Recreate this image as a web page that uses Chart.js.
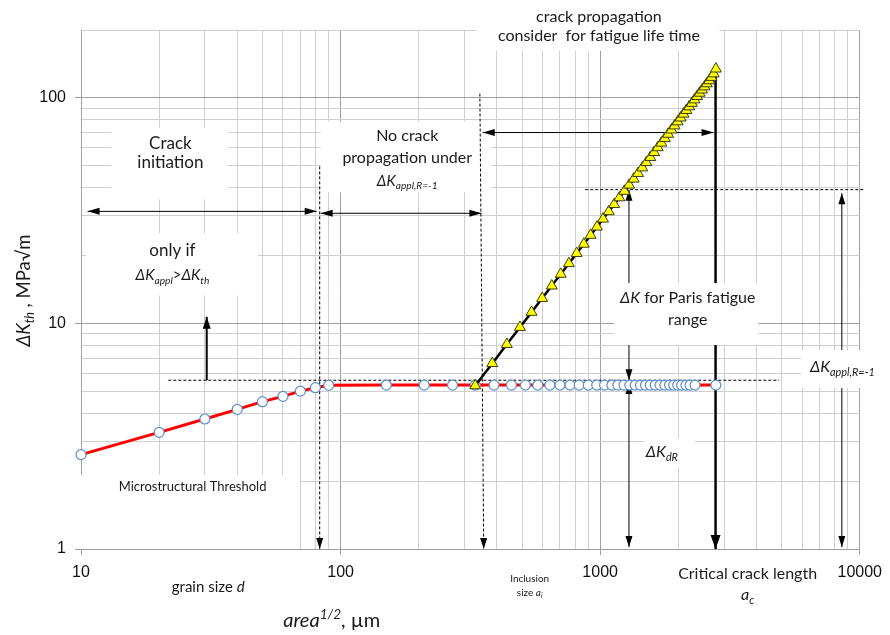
<!DOCTYPE html>
<html>
<head>
<meta charset="utf-8">
<script src="https://cdn.jsdelivr.net/npm/chart.js@4.4.1/dist/chart.umd.min.js"></script>
<style>
  html, body { margin: 0; padding: 0; background: #fff; }
</style>
</head>
<body>
<canvas id="chart" width="890" height="635"></canvas>
<script>
// microstructural threshold (red line, open circles)
var thresholdX = [10, 20, 30, 40, 50, 60, 70, 80, 90, 150, 210, 270, 330, 390, 455, 515, 575, 640, 700, 765,
  830, 900, 970, 1040, 1110, 1170, 1235, 1300, 1365, 1430, 1495, 1560, 1630, 1700, 1775, 1850, 1920, 1990,
  2060, 2140, 2220, 2320, 2790];
var thresholdY = [2.62, 3.29, 3.77, 4.16, 4.5, 4.75, 5.01, 5.19, 5.32, 5.33, 5.33, 5.33, 5.33, 5.33, 5.33, 5.33,
  5.33, 5.33, 5.33, 5.33, 5.33, 5.33, 5.33, 5.33, 5.33, 5.33, 5.33, 5.33, 5.33, 5.33, 5.33, 5.33, 5.33, 5.33,
  5.33, 5.33, 5.33, 5.33, 5.33, 5.33, 5.33, 5.33, 5.33];

// crack propagation (black line, yellow triangles)
var parisX = [330, 384, 437, 491, 544, 598, 651, 705, 758, 812, 865, 919, 972, 1026, 1079, 1133, 1186, 1240,
  1293, 1347, 1400, 1454, 1507, 1561, 1614, 1668, 1721, 1775, 1828, 1882, 1935, 1989, 2042, 2096, 2149, 2203,
  2256, 2310, 2363, 2417, 2470, 2524, 2577, 2631, 2684, 2738, 2791];
var parisY = [5.30, 6.65, 8.08, 9.62, 11.22, 12.93, 14.68, 16.55, 18.45, 20.46, 22.49, 24.63, 26.79, 29.06,
  31.34, 33.72, 36.11, 38.61, 41.11, 43.71, 46.31, 49.02, 51.72, 54.53, 57.33, 60.23, 63.12, 66.12, 69.10,
  72.18, 75.25, 78.43, 81.58, 84.84, 88.08, 91.42, 94.74, 98.16, 101.55, 105.06, 108.53, 112.11, 115.66,
  119.31, 123.5, 128.0, 134.5];

// axis ticks
var xTickValues = [10, 20, 30, 40, 50, 60, 70, 80, 90, 100, 200, 300, 400, 500, 600, 700, 800, 900,
  1000, 2000, 3000, 4000, 5000, 6000, 7000, 8000, 9000, 10000];
var yTickValues = [1, 2, 3, 4, 5, 6, 7, 8, 9, 10, 20, 30, 40, 50, 60, 70, 80, 90, 100, 200];
var xTickLabels = ['10', '100', '1000', '10000'];
var yTickLabels = ['1', '10', '100'];

var TXT = 'Lato';

// white text boxes: [x1, x2, yTop, yBottom] in data units
var boxes = [
  [332, 2883, 215, 162],
  [13.1, 36.9, 73.9, 35.5],
  [83.8, 382, 78.6, 38.1],
  [10.45, 48.1, 25.1, 13.3],
  [10, 69.5, 2.13, 1.0],
  [1131, 4068, 15.1, 8.02],
  [1474, 2312, 3.11, 2.31],
  [5943, 12500, 7.62, 5.17]
];

// lines: x1, y1, x2, y2, width, dashed, head ('end', 'both', ''), head length, head half width
var arrows = [
  [10.6, 31.4, 80.9, 31.4, 1, false, 'both', 12, 3.5],
  [83.8, 30.8, 348.6, 30.8, 1, false, 'both', 12, 3.5],
  [353, 70.2, 2734, 70.2, 1, false, 'both', 12, 3.5],
  [83.1, 49.7, 83.1, 1.0, 1, true, 'end', 11, 3.5],
  [344, 104.5, 356, 1.0, 1, true, 'end', 11, 3.5],
  [21.7, 5.6, 4894, 5.6, 1, true, '', 0, 0],
  [30.5, 5.6, 30.5, 10.7, 2, false, 'end', 12, 4],
  [2783, 134.8, 2783, 15.1, 2.5, false, '', 0, 0],
  [2783, 8.02, 2783, 1.0, 2.5, false, 'end', 14, 5],
  [876, 39.2, 10360, 39.2, 1, true, '', 0, 0],
  [1291, 15.1, 1291, 39.2, 1, false, 'end', 11, 3.5],
  [1291, 8.02, 1291, 5.6, 1, false, 'end', 11, 3.5],
  [1291, 5.44, 1291, 1.02, 1, false, 'both', 11, 3.5],
  [8531, 7.62, 8531, 37.8, 1, false, 'end', 11, 3.5],
  [8531, 5.17, 8531, 1.02, 1, false, 'end', 11, 3.5]
];

// texts: x, y (line centres), font size, lines of segments
var texts = [
  [989, [229, 188.7], 16, [[{t: 'crack propagation'}], [{t: 'consider  for fatigue life time'}]]],
  [22.1, [63.4, 52.3], 17, [[{t: 'Crack'}], [{t: 'initiation'}]]],
  [180.6, [68.1, 54.4], 16, [[{t: 'No crack'}], [{t: 'propagation under'}]]],
  [180.6, [43.1], 15, [[{t: '\u0394K', i: 1}, {t: 'appl,R=-1', i: 1, sub: 1}]]],
  [22.5, [21.1], 17, [[{t: 'only if'}]]],
  [22.5, [16.4], 15, [[{t: '\u0394K', i: 1}, {t: 'appl', i: 1, sub: 1}, {t: '>'}, {t: '\u0394K', i: 1}, {t: 'th', i: 1, sub: 1}]]],
  [26.9, [1.89], 13, [[{t: 'Microstructural Threshold'}]]],
  [30.9, [0.683], 15, [[{t: 'grain size '}, {t: 'd', i: 1}]]],
  [535, [0.744, 0.645], 10, [[{t: 'Inclusion'}], [{t: 'size '}, {t: 'a', i: 1}, {t: 'i', i: 1, sub: 1}]]],
  [3698, [0.777, 0.628], 16, [[{t: 'Critical crack length'}], [{t: 'a', i: 1}, {t: 'c', i: 1, sub: 1}]]],
  [2174, [13.1, 10.45], 16, [[{t: '\u0394K', i: 1}, {t: ' for Paris fatigue'}], [{t: 'range'}]]],
  [1728, [2.70], 16, [[{t: '\u0394K', i: 1}, {t: 'dR', i: 1, sub: 1}]]],
  [8570, [6.43], 16, [[{t: '\u0394K', i: 1}, {t: 'appl,R=-1', i: 1, sub: 1}]]],
  [92.4, [0.486], 20, [[{t: 'area', i: 1}, {t: '1/2', i: 1, sup: 1}, {t: ', \u00b5m'}]]]
];

function segFont(s, size) {
  var sz = (s.sub || s.sup) ? size * 0.68 : size;
  return (s.i ? 'italic ' : '') + sz + 'px ' + TXT;
}

function drawRich(ctx, segs, cx, cy, size) {
  var w = 0;
  segs.forEach(function (s) { ctx.font = segFont(s, size); w += ctx.measureText(s.t).width; });
  var x = cx - w / 2;
  var base = cy + size * 0.36;
  segs.forEach(function (s) {
    ctx.font = segFont(s, size);
    var y = base;
    if (s.sub) y += size * 0.22;
    if (s.sup) y -= size * 0.4;
    ctx.fillText(s.t, x, y);
    x += ctx.measureText(s.t).width;
  });
}

function head(ctx, x1, y1, x2, y2, len, hw) {
  var a = Math.atan2(y2 - y1, x2 - x1);
  ctx.beginPath();
  ctx.moveTo(x2, y2);
  ctx.lineTo(x2 - len * Math.cos(a) + hw * Math.sin(a), y2 - len * Math.sin(a) - hw * Math.cos(a));
  ctx.lineTo(x2 - len * Math.cos(a) - hw * Math.sin(a), y2 - len * Math.sin(a) + hw * Math.cos(a));
  ctx.closePath();
  ctx.fill();
}

var notes = {
  id: 'notes',
  beforeDatasetsDraw: function (chart) {
    var ctx = chart.ctx, xs = chart.scales.x, ys = chart.scales.y;
    var px = function (v) { return xs.getPixelForValue(v); };
    var py = function (v) { return ys.getPixelForValue(v); };
    ctx.save();
    ctx.fillStyle = '#fff';
    boxes.forEach(function (b) {
      ctx.fillRect(px(b[0]), py(b[2]), px(b[1]) - px(b[0]), py(b[3]) - py(b[2]));
    });

    ctx.strokeStyle = '#000';
    ctx.fillStyle = '#000';
    arrows.forEach(function (a) {
      var x1 = px(a[0]), y1 = py(a[1]), x2 = px(a[2]), y2 = py(a[3]);
      ctx.lineWidth = a[4];
      ctx.setLineDash(a[5] ? [3, 2] : []);
      ctx.beginPath();
      ctx.moveTo(x1, y1);
      ctx.lineTo(x2, y2);
      ctx.stroke();
      ctx.setLineDash([]);
      if (a[6] == 'end' || a[6] == 'both') head(ctx, x1, y1, x2, y2, a[7], a[8]);
      if (a[6] == 'both') head(ctx, x2, y2, x1, y1, a[7], a[8]);
    });

    ctx.fillStyle = '#1a1a1a';
    ctx.textBaseline = 'alphabetic';
    ctx.textAlign = 'left';
    texts.forEach(function (t) {
      t[3].forEach(function (line, k) {
        drawRich(ctx, line, px(t[0]), py(t[1][k]), t[2]);
      });
    });

    // y axis title, rotated
    ctx.translate(chart.chartArea.left - 58, py(14));
    ctx.rotate(-Math.PI / 2);
    drawRich(ctx, [{t: '\u0394K', i: 1}, {t: 'th', i: 1, sub: 1}, {t: ' , MPa\u221am'}], 0, 0, 18.5);
    ctx.restore();
  }
};

function isMajor(v) {
  var l = Math.log10(v);
  return Math.abs(l - Math.round(l)) < 1e-9;
}

var gridOpts = {
  color: function (c) { return c.tick && isMajor(c.tick.value) ? '#9f9f9f' : '#cfcfcf'; },
  lineWidth: 1,
  tickLength: 6,
  tickColor: function (c) { return c.tick && isMajor(c.tick.value) ? '#9f9f9f' : 'rgba(0,0,0,0)'; }
};

new Chart(document.getElementById('chart'), {
  type: 'scatter',
  data: {
    datasets: [{
      label: 'Paris',
      data: parisX.map(function (x, i) { return {x: x, y: parisY[i]}; }),
      showLine: true,
      borderColor: '#000',
      borderWidth: 2.5,
      pointStyle: 'triangle',
      pointRadius: 6.3,
      pointBackgroundColor: '#ffff00',
      pointBorderColor: '#3c3c10',
      pointBorderWidth: 1,
      clip: false
    }, {
      label: 'Threshold',
      data: thresholdX.map(function (x, i) { return {x: x, y: thresholdY[i]}; }),
      showLine: true,
      borderColor: '#ff0000',
      borderWidth: 3,
      pointStyle: 'circle',
      pointRadius: 5,
      pointBackgroundColor: '#ffffff',
      pointBorderColor: '#5b8ccc',
      pointBorderWidth: 1.2,
      clip: false
    }]
  },
  options: {
    responsive: false,
    animation: false,
    events: [],
    layout: { padding: { top: 30, right: 26, left: 0, bottom: 0 } },
    plugins: { legend: { display: false }, tooltip: { enabled: false } },
    scales: {
      x: {
        type: 'logarithmic',
        min: 10,
        max: 10000,
        afterBuildTicks: function (s) { s.ticks = xTickValues.map(function (v) { return {value: v}; }); },
        afterFit: function (s) { s.height = 86; },
        ticks: {
          autoSkip: false,
          maxRotation: 0,
          padding: 8,
          color: '#111',
          font: { family: 'Liberation Sans', size: 16 },
          callback: function (v) { return xTickLabels.indexOf(String(v)) >= 0 ? String(v) : ''; }
        },
        grid: gridOpts,
        border: { color: '#9f9f9f' }
      },
      y: {
        type: 'logarithmic',
        min: 1,
        max: 200,
        afterBuildTicks: function (s) { s.ticks = yTickValues.map(function (v) { return {value: v}; }); },
        afterFit: function (s) { s.width = 81; },
        ticks: {
          autoSkip: false,
          padding: 9,
          color: '#111',
          font: { family: 'Liberation Sans', size: 16 },
          callback: function (v) { return yTickLabels.indexOf(String(v)) >= 0 ? String(v) : ''; }
        },
        grid: gridOpts,
        border: { color: '#9f9f9f' }
      }
    }
  },
  plugins: [notes]
});
</script>
</body>
</html>
